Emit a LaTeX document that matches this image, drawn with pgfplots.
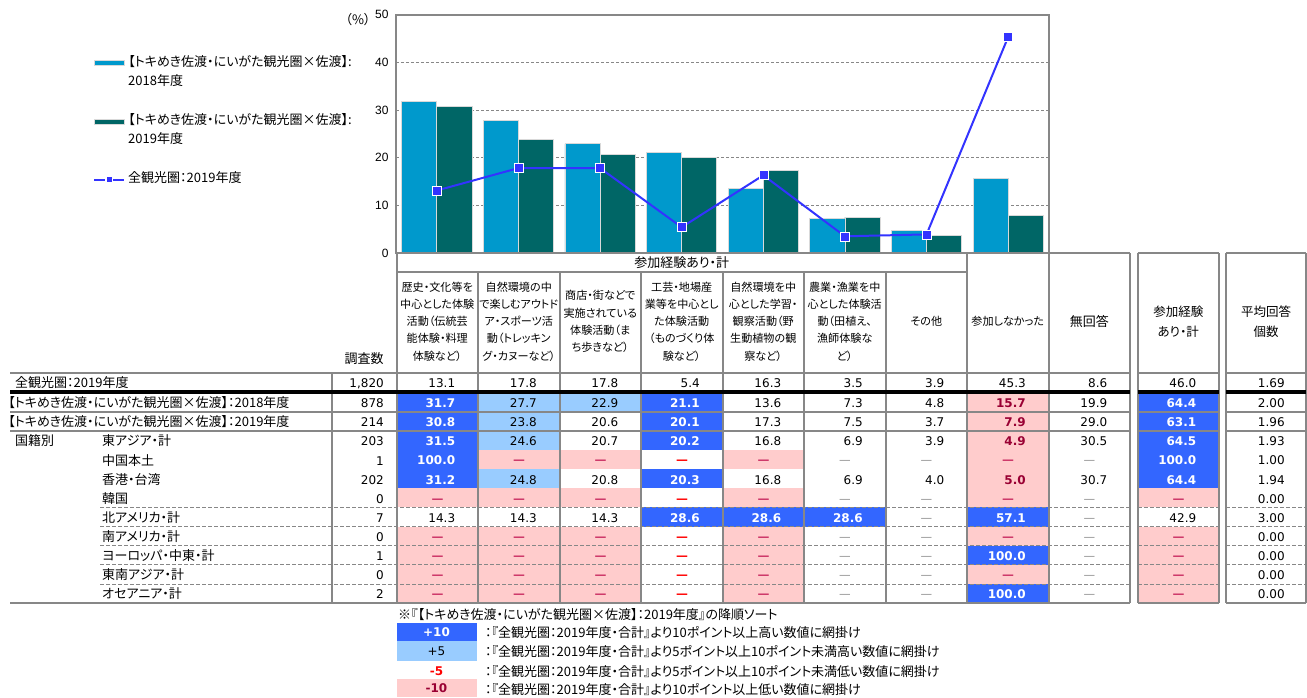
\documentclass[border=0pt]{standalone}
\usepackage{fontspec}
\setmainfont{Noto Sans CJK JP}[RawFeature=+palt]
\newfontfamily\numfont{DejaVu Sans}
\newfontfamily\tickfont{Liberation Sans}
\usepackage{pgfplots}
\pgfplotsset{compat=1.18}

\definecolor{barA}{HTML}{0099CC}
\definecolor{barB}{HTML}{006666}
\definecolor{lineC}{HTML}{3333FF}
\definecolor{frameG}{HTML}{878787}
\definecolor{cB}{HTML}{3366FF}
\definecolor{cL}{HTML}{99CCFF}
\definecolor{cP}{HTML}{FFCCCC}
\definecolor{txP}{HTML}{990033}
\definecolor{txR}{HTML}{FF0000}
\definecolor{dsP}{HTML}{CC3366}
\definecolor{dsG}{HTML}{8C8C8C}

\newcommand\fs{\fontsize{13}{15.6}\selectfont}
\newcommand\nfs{\fontsize{12}{14.4}\selectfont}
\newcommand\hfs{\fontsize{11.1}{17.2}\selectfont}

% column / row edges of the table, in pixels
\def\CL{{0,396.5,478,559.5,641,722.5,804,885.5,967,1048.5,1137.5,1226}}
\def\CR{{0,478,559.5,641,722.5,804,885.5,967,1048.5,1130,1219,1306}}
\def\RT{{373,392,412,431,450.11,469.22,488.33,507.44,526.56,545.67,564.78,583.89}}
\def\RB{{392,412,431,450.11,469.22,488.33,507.44,526.56,545.67,564.78,583.89,603}}

\tikzset{
  fN/.style={}, fL/.style={fill=cL}, fB/.style={fill=cB}, fP/.style={fill=cP},
  fp/.style={fill=cP}, fr/.style={}, fg/.style={},
  tnum/.style={anchor=base west, inner sep=0pt, text width=58.5pt, align=right, font=\numfont\nfs},
  tN/.style={tnum}, tL/.style={tnum},
  tB/.style={tnum, text=white, font=\numfont\bfseries\nfs},
  tP/.style={tnum, text=txP, font=\numfont\bfseries\nfs},
  tdash/.style={anchor=base west, inner sep=0pt, text width=81.5pt, align=center},
  tp/.style={tdash, text=dsP, font=\bfseries\fs},
  tr/.style={tdash, text=txR, font=\bfseries\fs},
  tg/.style={tdash, text=dsG, font=\fs},
  gl/.style={draw=frameG, line width=2pt},
  lab/.style={anchor=base west, inner sep=0pt, font=\fs},
  hd/.style={align=center, inner sep=0pt, font=\hfs},
}

\newcommand\cell[4]{%
  \pgfmathsetmacro\xl{\CL[#1]}%
  \pgfmathsetmacro\xr{\CR[#1]}%
  \pgfmathsetmacro\yt{\RT[#2]}%
  \pgfmathsetmacro\yb{\RB[#2]}%
  \pgfmathsetmacro\ym{(\yt+\yb)/2+5.3}%
  \path[f#3] (\xl,\yt) rectangle (\xr,\yb);%
  \node[t#3] at (\xl,\ym) {#4};}

\newcommand\tabrow[2]{%
  \foreach \s/\v [count=\c] in {#2} {\edef\doit{\noexpand\cell{\c}{#1}{\s}{\v}}\doit}}

\begin{document}
\fs
\begin{tikzpicture}
\path[use as bounding box] (0pt,0pt) rectangle (1307pt,-697pt);

\begin{axis}[
  at={(396pt,-253pt)}, anchor=south west,
  scale only axis, width=653pt, height=238.5pt,
  xmin=0.5, xmax=8.5, ymin=0, ymax=50,
  xtick=\empty, ytick={0,10,...,50},
  ymajorgrids,
  grid style={frameG, line width=0.8pt, dash pattern=on 3pt off 2pt},
  axis line style={frameG, line width=2pt},
  major tick length=0pt,
  yticklabel style={font=\tickfont\nfs, xshift=-3pt},
  /pgf/number format/assume math mode=true,
  clip=false,
  legend cell align=left,
  legend style={at={(-0.464,0.822)}, anchor=north west, draw=none, fill=none,
    inner sep=0pt, row sep=7.4pt, font=\fs,
    nodes={inner ysep=0pt, inner xsep=3pt, text height=9pt, text depth=3pt}},
]
\addplot[ybar, bar width=0.43, bar shift=-0.215, fill=barA, draw=gray!30, line width=0.8pt,
  legend image code/.code={\filldraw[fill=barA, draw=gray!30, line width=0.6pt] (0pt,-2.5pt) rectangle (30pt,2.5pt);}]
  coordinates {(1,31.7) (2,27.7) (3,22.9) (4,21.1) (5,13.6) (6,7.3) (7,4.8) (8,15.7)};
\addlegendentry{【トキめき佐渡・にいがた観光圏×佐渡】:}
\addlegendimage{empty legend}\addlegendentry{2018年度}
\addlegendimage{empty legend}\addlegendentry{~}
\addplot[ybar, bar width=0.43, bar shift=0.215, fill=barB, draw=gray!30, line width=0.8pt,
  legend image code/.code={\filldraw[fill=barB, draw=gray!30, line width=0.6pt] (0pt,-2.5pt) rectangle (30pt,2.5pt);}]
  coordinates {(1,30.8) (2,23.8) (3,20.6) (4,20.1) (5,17.3) (6,7.5) (7,3.7) (8,7.9)};
\addlegendentry{【トキめき佐渡・にいがた観光圏×佐渡】:}
\addlegendimage{empty legend}\addlegendentry{2019年度}
\addlegendimage{empty legend}\addlegendentry{~}
\addplot[lineC, line width=2pt, mark=square*, mark size=4.5pt,
  mark options={fill=lineC, draw=white, line width=0.6pt},
  legend image code/.code={\draw[lineC, line width=2pt] (0pt,0pt) -- (30pt,0pt);
    \fill[white] (12pt,-2.5pt) rectangle (18pt,2.5pt);
    \fill[lineC] (13.5pt,-1.5pt) rectangle (16.5pt,1.5pt);}]
  coordinates {(1,13.1) (2,17.8) (3,17.8) (4,5.4) (5,16.3) (6,3.5) (7,3.9) (8,45.3)};
\addlegendentry{全観光圏：2019年度}
\end{axis}

\begin{scope}[x=1pt, y=-1pt]
\node[inner sep=0pt, font=\fs] at (358,20) {（\%）};

% cells
\tabrow{0}{N/13.1,N/17.8,N/17.8,N/5.4,N/16.3,N/3.5,N/3.9,N/45.3,N/8.6,N/46.0,N/1.69}
\tabrow{1}{B/31.7,L/27.7,L/22.9,B/21.1,N/13.6,N/7.3,N/4.8,P/15.7,N/19.9,B/64.4,N/2.00}
\tabrow{2}{B/30.8,L/23.8,N/20.6,B/20.1,N/17.3,N/7.5,N/3.7,P/7.9,N/29.0,B/63.1,N/1.96}
\tabrow{3}{B/31.5,L/24.6,N/20.7,B/20.2,N/16.8,N/6.9,N/3.9,P/4.9,N/30.5,B/64.5,N/1.93}
\tabrow{4}{B/100.0,p/—,p/—,r/—,p/—,g/—,g/—,p/—,g/—,B/100.0,N/1.00}
\tabrow{5}{B/31.2,L/24.8,N/20.8,B/20.3,N/16.8,N/6.9,N/4.0,P/5.0,N/30.7,B/64.4,N/1.94}
\tabrow{6}{p/—,p/—,p/—,r/—,p/—,g/—,g/—,p/—,g/—,p/—,N/0.00}
\tabrow{7}{N/14.3,N/14.3,N/14.3,B/28.6,B/28.6,B/28.6,g/—,B/57.1,g/—,N/42.9,N/3.00}
\tabrow{8}{p/—,p/—,p/—,r/—,p/—,g/—,g/—,p/—,g/—,p/—,N/0.00}
\tabrow{9}{p/—,p/—,p/—,r/—,p/—,g/—,g/—,B/100.0,g/—,p/—,N/0.00}
\tabrow{10}{p/—,p/—,p/—,r/—,p/—,g/—,g/—,p/—,g/—,p/—,N/0.00}
\tabrow{11}{p/—,p/—,p/—,r/—,p/—,g/—,g/—,B/100.0,g/—,p/—,N/0.00}

% dashed separators between the country rows
\foreach \y in {507.44,526.56,545.67,564.78,583.89} {
  \draw[frameG, line width=0.8pt, dash pattern=on 4pt off 2pt] (100,\y) -- (1130,\y)
    (1137.5,\y) -- (1219,\y) (1226,\y) -- (1306,\y);}

% grid of the table
\draw[gl] (332,373) -- (332,603);
\draw[gl] (396.5,253) -- (396.5,603);
\foreach \x in {478,559.5,641,722.5,804,885.5} \draw[gl] (\x,272) -- (\x,603);
\foreach \x in {967,1048.5,1130,1137.5,1219,1226,1306} \draw[gl] (\x,253) -- (\x,603);
\draw[gl] (396.5,253) -- (1130,253) (1137.5,253) -- (1219,253) (1226,253) -- (1306,253);
\draw[gl] (396.5,272) -- (967,272);
\foreach \y in {373,412,431,603} {
  \draw[gl] (10,\y) -- (1130,\y) (1137.5,\y) -- (1219,\y) (1226,\y) -- (1306,\y);}
\draw[black, line width=3.5pt] (10,392) -- (1130,392) (1137.5,392) -- (1219,392) (1226,392) -- (1306,392);

% headers
\node[inner sep=0pt, font=\fs] at (681.75,263) {参加経験あり・計};
\node[hd] at (437.25,321.5) {歴史・文化等を\\中心とした体験\\活動（伝統芸\\能体験・料理\\体験など）};
\node[hd] at (518.75,321.5) {自然環境の中\\で楽しむアウトド\\ア・スポーツ活\\動（トレッキン\\グ・カヌーなど）};
\node[hd] at (600.25,321.5) {商店・街などで\\実施されている\\体験活動（ま\\ち歩きなど）};
\node[hd] at (681.75,321.5) {工芸・地場産\\業等を中心とし\\た体験活動\\（ものづくり体\\験など）};
\node[hd] at (763.25,321.5) {自然環境を中\\心とした学習・\\観察活動（野\\生動植物の観\\察など）};
\node[hd] at (844.75,321.5) {農業・漁業を中\\心とした体験活\\動（田植え、\\漁師体験な\\ど）};
\node[hd] at (926.25,321.5) {その他};
\node[hd] at (1007.75,321.5) {参加しなかった};
\node[hd, font=\fs] at (1089.25,321.5) {無回答};
\node[hd, font=\fontsize{12.5}{20}\selectfont] at (1178.25,321.5) {参加経験\\あり・計};
\node[hd, font=\fontsize{12.5}{20}\selectfont] at (1266,321.5) {平均回答\\個数};
\node[hd, font=\fs] at (364,359) {調査数};

% row labels and sample sizes
\node[lab] at (15,387.8) {全観光圏：2019年度};
\node[lab] at (8,407.3) {【トキめき佐渡・にいがた観光圏×佐渡】：2018年度};
\node[lab] at (8,426.8) {【トキめき佐渡・にいがた観光圏×佐渡】：2019年度};
\node[lab] at (15,445.9) {国籍別};
\foreach \t [count=\i from 0] in {東アジア・計,中国本土,香港・台湾,韓国,北アメリカ・計,南アメリカ・計,ヨーロッパ・中東・計,東南アジア・計,オセアニア・計}
  \node[lab] at (102,{445.9+19.11*\i}) {\t};
\foreach \n/\y in {1{,}820/387.8,878/407.3,214/426.8,203/445.9,1/465.0,202/484.1,0/503.2,7/522.3,0/541.4,1/560.5,0/579.6,2/598.7}
  \node[anchor=base east, inner sep=0pt, font=\numfont\nfs] at (384,\y) {\n};

% note and shading key
\node[lab] at (398,619.5) {※『【トキめき佐渡・にいがた観光圏×佐渡】：2019年度』の降順ソート};
\fill[cB] (396.5,622.7) rectangle (476.5,641.3);
\fill[cL] (396.5,641.3) rectangle (476.5,660.7);
\fill[cP] (396.5,679) rectangle (476.5,697);
\node[inner sep=0pt, text=white, font=\numfont\bfseries\nfs] at (436.5,632) {+10};
\node[inner sep=0pt, font=\numfont\nfs] at (436.5,651) {+5};
\node[inner sep=0pt, text=txR, font=\numfont\bfseries\nfs] at (436.5,671.5) {-5};
\node[inner sep=0pt, text=txP, font=\numfont\bfseries\nfs] at (436.5,688) {-10};
\node[lab] at (485,637.8) {：『全観光圏：2019年度・合計』より10ポイント以上高い数値に網掛け};
\node[lab] at (485,656.8) {：『全観光圏：2019年度・合計』より5ポイント以上10ポイント未満高い数値に網掛け};
\node[lab] at (485,676.2) {：『全観光圏：2019年度・合計』より5ポイント以上10ポイント未満低い数値に網掛け};
\node[lab] at (485,694.5) {：『全観光圏：2019年度・合計』より10ポイント以上低い数値に網掛け};
\end{scope}
\end{tikzpicture}
\end{document}
